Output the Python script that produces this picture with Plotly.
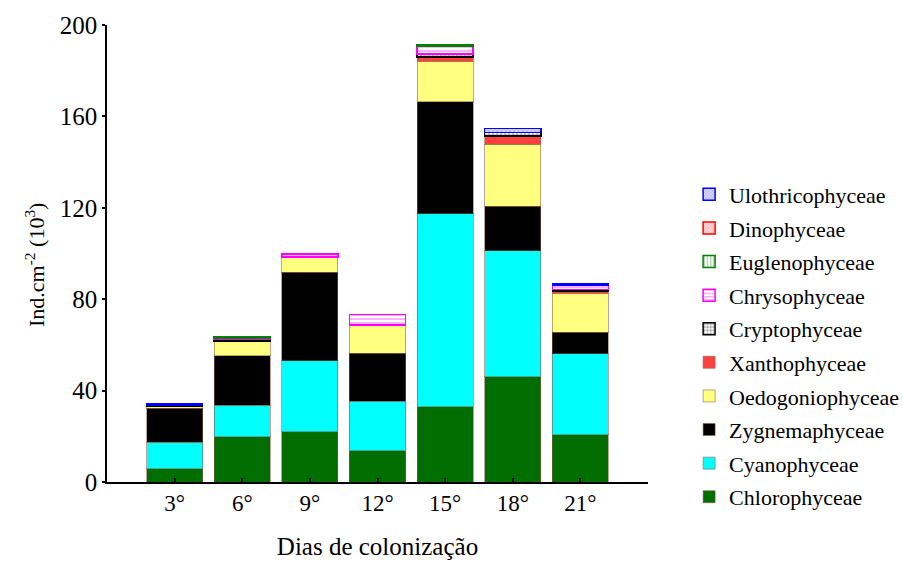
import plotly.graph_objects as go

# Colonization days (x categories)
dias = ["3°", "6°", "9°", "12°", "15°", "18°", "21°"]

# Density per class, Ind.cm-2 (10^3), stacked from bottom to top
chlorophyceae = [5.7, 19.8, 22.0, 13.6, 32.9, 46.1, 20.6]
cyanophyceae = [11.7, 13.9, 31.1, 21.7, 84.5, 55.0, 35.6]
zygnemaphyceae = [14.8, 21.6, 38.7, 21.0, 49.0, 19.5, 9.3]
oedogoniophyceae = [0.8, 6.5, 6.4, 12.0, 17.7, 27.2, 17.1]
xanthophyceae = [0.2, 0.0, 0.3, 0.4, 1.8, 3.6, 1.1]
cryptophyceae = [0.4, 0.5, 0.0, 0.0, 1.4, 1.5, 0.6]
chrysophyceae = [0.0, 0.8, 1.2, 4.7, 3.2, 0.0, 1.6]
euglenophyceae = [0.0, 0.6, 0.0, 0.0, 0.7, 0.0, 0.0]
dinophyceae = [0.0, 0.0, 0.0, 0.0, 0.0, 0.0, 0.0]
ulothricophyceae = [0.6, 0.0, 0.0, 0.0, 0.0, 1.7, 0.8]

series = [
    ("Chlorophyceae", chlorophyceae, dict(color="#006e00")),
    ("Cyanophyceae", cyanophyceae, dict(color="#00ffff")),
    ("Zygnemaphyceae", zygnemaphyceae, dict(color="#000000")),
    ("Oedogoniophyceae", oedogoniophyceae, dict(color="#ffff80")),
    ("Xanthophyceae", xanthophyceae, dict(color="#ff4040")),
    ("Cryptophyceae", cryptophyceae,
     dict(color="white", pattern=dict(shape="+", fgcolor="black", bgcolor="white",
                                      size=4, solidity=0.35), edge="black")),
    ("Chrysophyceae", chrysophyceae,
     dict(color="white", pattern=dict(shape="-", fgcolor="#ff00ff", bgcolor="white",
                                      size=4, solidity=0.3), edge="#ff00ff")),
    ("Euglenophyceae", euglenophyceae,
     dict(color="white", pattern=dict(shape="|", fgcolor="#008000", bgcolor="white",
                                      size=4, solidity=0.3), edge="#008000")),
    ("Dinophyceae", dinophyceae,
     dict(color="#ffc8c8", pattern=dict(shape="x", fgcolor="#ff6060", bgcolor="#ffd8d8",
                                        size=3, solidity=0.3), edge="#ff0000")),
    ("Ulothricophyceae", ulothricophyceae,
     dict(color="#c8c8ff", pattern=dict(shape="x", fgcolor="#6060ff", bgcolor="#d8d8ff",
                                        size=3, solidity=0.3), edge="#0000ff")),
]

serif = "Liberation Serif"

fig = go.Figure()
n = len(series)
for i, (name, vals, style) in enumerate(series):
    edge = style.get("edge")
    marker = dict(color=style["color"])
    if "pattern" in style:
        marker["pattern"] = style["pattern"]
        marker["line"] = dict(color=edge, width=1.5)
    else:
        marker["line"] = dict(color="rgba(140,90,70,0.55)", width=1)
    fig.add_trace(go.Bar(
        x=dias,
        y=[v if v > 0 else None for v in vals],
        name=name,
        marker=marker,
        width=0.83,
        legendgroup=name,
        legendrank=n - i,
    ))

# Rotated y-axis title
fig.add_annotation(
    text="Ind.cm<sup>-2</sup> (10<sup>3</sup>)",
    xref="paper", yref="paper",
    x=-0.133, y=0.475, xanchor="center", yanchor="middle",
    textangle=-90, showarrow=False,
    font=dict(family=serif, size=22, color="black"),
)

fig.update_layout(
    width=903,
    height=561,
    barmode="stack",
    paper_bgcolor="white",
    plot_bgcolor="white",
    margin=dict(l=107, r=255, t=25, b=79, autoexpand=False),
    font=dict(family=serif, color="black"),
    legend=dict(
        x=1.076, y=0.675, xanchor="left", yanchor="top",
        traceorder="grouped",
        tracegroupgap=2,
        font=dict(family=serif, size=22, color="black"),
        bgcolor="rgba(0,0,0,0)",
    ),
    xaxis=dict(
        range=[-1, 7],
        showline=True, linecolor="black", linewidth=1.5,
        ticks="inside", ticklen=4, tickwidth=1.5, tickcolor="black",
        tickfont=dict(family=serif, size=23),
        title=dict(text="Dias de colonização", font=dict(family=serif, size=25), standoff=22),
        showgrid=False, zeroline=False,
    ),
    yaxis=dict(
        range=[0, 200],
        tickvals=[0, 40, 80, 120, 160, 200],
        showline=True, linecolor="black", linewidth=1.5,
        ticks="outside", ticklen=3, tickwidth=1.5, tickcolor="black",
        tickfont=dict(family=serif, size=25),
        showgrid=False, zeroline=False,
    ),
)

fig.write_html("out.html")
